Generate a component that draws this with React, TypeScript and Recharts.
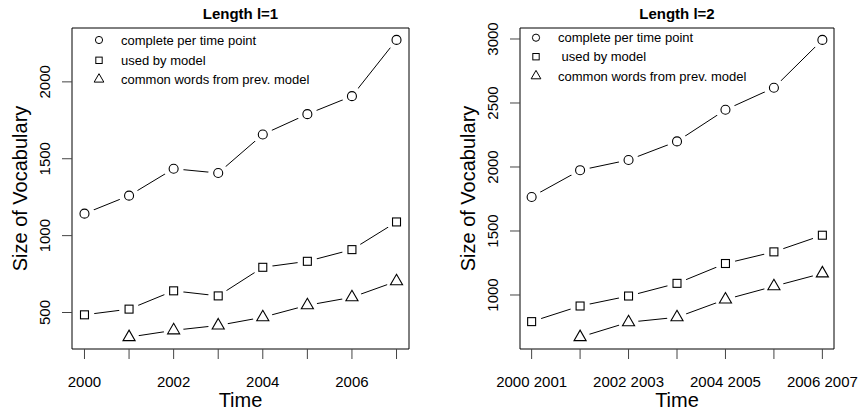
import React from 'react';
import { LineChart, Line, XAxis, YAxis, ReferenceArea, Legend, Label } from 'recharts';

const FONT = '"Liberation Sans", Arial, Helvetica, sans-serif';

// ---- Panel 1 : Length l=1 ----
const years1 = [2000, 2001, 2002, 2003, 2004, 2005, 2006, 2007];
const xLabels1 = ['2000', '2001', '2002', '2003', '2004', '2005', '2006', '2007'];
const complete1 = [1143, 1260, 1435, 1407, 1658, 1790, 1907, 2273];
const used1 = [485, 522, 641, 608, 794, 833, 909, 1089];
const common1: (number | null)[] = [null, 340, 384, 416, 469, 547, 599, 703];
const yTicks1 = [500, 1000, 1500, 2000];

// ---- Panel 2 : Length l=2 ----
const periods2 = ['2000 2001', '2001 2002', '2002 2003', '2003 2004', '2004 2005', '2005 2006', '2006 2007'];
const complete2 = [1766, 1975, 2055, 2200, 2447, 2619, 2993];
const used2 = [792, 914, 992, 1091, 1246, 1337, 1467];
const common2: (number | null)[] = [null, 671, 787, 826, 965, 1068, 1169];
const yTicks2 = [1000, 1500, 2000, 2500, 3000];

const titles = ['Length l=1', 'Length l=2'];
const seriesNames1 = ['complete per time point', 'used by model', 'common words from prev. model'];
const seriesNames2 = ['complete per time point', ' used by model', 'common words from prev. model'];
const shapes = ['circle', 'square', 'triangle'];

// R-style axis range: data range extended by 4% on each side
const rRange = (vals: (number | null)[]): [number, number] => {
  const v = vals.filter((d): d is number => d != null);
  const lo = Math.min(...v);
  const hi = Math.max(...v);
  const d = (hi - lo) * 0.04;
  return [lo - d, hi + d];
};

function MarkerShape({ shape, cx, cy, r, sw = 1.1 }: any) {
  if (shape === 'circle') {
    return <circle cx={cx} cy={cy} r={r} fill="none" stroke="#000" strokeWidth={sw} />;
  }
  if (shape === 'square') {
    const h = r * 0.886;
    return <rect x={cx - h} y={cy - h} width={2 * h} height={2 * h} fill="none" stroke="#000" strokeWidth={sw} />;
  }
  const a = r * 1.555;
  const b = r * 0.778;
  const w = r * 1.347;
  return (
    <polygon
      points={`${cx},${cy - a} ${cx + w},${cy + b} ${cx - w},${cy + b}`}
      fill="none"
      stroke="#000"
      strokeWidth={sw}
      strokeLinejoin="miter"
    />
  );
}

const makeDot = (shape: string) => (props: any) => {
  const { cx, cy, index, value } = props;
  if (cx == null || cy == null || value == null || Number.isNaN(cy)) {
    return <g key={`d-${shape}-${index}`} />;
  }
  return (
    <g key={`d-${shape}-${index}`}>
      <circle cx={cx} cy={cy} r={10} fill="#fff" stroke="none" />
      <MarkerShape shape={shape} cx={cx} cy={cy} r={4.5} />
    </g>
  );
};

const makeXTick = (labels: string[]) => (props: any) => {
  const { x, y, index } = props;
  if (index % 2 !== 0) return <g />;
  return (
    <text x={x} y={y} dy="0.71em" textAnchor="middle" fontSize={15} fill="#000" fontFamily={FONT}>
      {labels[index]}
    </text>
  );
};

const YTick = (props: any) => {
  const { x, y, payload } = props;
  return (
    <text
      x={x}
      y={y}
      transform={`rotate(-90 ${x} ${y})`}
      textAnchor="middle"
      fontSize={15}
      fill="#000"
      fontFamily={FONT}
    >
      {payload.value}
    </text>
  );
};

const TimeTitle = (props: any) => {
  const vb = props.viewBox;
  return (
    <text x={vb.x + vb.width / 2} y={vb.y + 58} textAnchor="middle" fontSize={20} fill="#000" fontFamily={FONT}>
      Time
    </text>
  );
};

const SizeTitle = (props: any) => {
  const vb = props.viewBox;
  const bx = vb.x + vb.width - 45;
  const cy = vb.y + vb.height / 2;
  return (
    <text
      x={bx}
      y={cy}
      transform={`rotate(-90 ${bx} ${cy})`}
      textAnchor="middle"
      fontSize={20}
      fill="#000"
      fontFamily={FONT}
    >
      Size of Vocabulary
    </text>
  );
};

const makeLegend = (names: string[], rows: number[]) => () => (
  <svg width={280} height={62} style={{ display: 'block', overflow: 'visible' }}>
    {names.map((n, i) => (
      <g key={i}>
        <MarkerShape shape={shapes[i]} cx={14} cy={rows[i]} r={3.6} sw={1} />
        <text x={36} y={rows[i] + 4.5} fontSize={13} fill="#000" fontFamily={FONT} style={{ whiteSpace: 'pre' }}>
          {n}
        </text>
      </g>
    ))}
  </svg>
);

interface PanelProps {
  data: any[];
  xDomain: [number, number];
  xTicks: number[];
  xLabels: string[];
  yDomain: [number, number];
  yTicks: number[];
  yAxisWidth: number;
  marginRight: number;
  names: string[];
  legendLeft: number;
  legendTop: number;
  legendRows: number[];
}

function Panel(p: PanelProps) {
  return (
    <LineChart
      width={430}
      height={411}
      data={p.data}
      margin={{ top: 28, right: p.marginRight, bottom: 0, left: 0 }}
      style={{ fontFamily: FONT }}
    >
      <XAxis
        type="number"
        dataKey="x"
        domain={p.xDomain}
        ticks={p.xTicks}
        interval={0}
        allowDataOverflow
        height={62}
        tickSize={10}
        tickMargin={17}
        axisLine={false}
        tickLine={{ stroke: '#444', strokeWidth: 1 }}
        tick={makeXTick(p.xLabels)}
      >
        <Label content={TimeTitle} />
      </XAxis>
      <YAxis
        type="number"
        domain={p.yDomain}
        ticks={p.yTicks}
        interval={0}
        allowDataOverflow
        width={p.yAxisWidth}
        tickSize={10}
        tickMargin={12}
        axisLine={false}
        tickLine={{ stroke: '#444', strokeWidth: 1 }}
        tick={YTick}
      >
        <Label content={SizeTitle} />
      </YAxis>
      <ReferenceArea
        x1={p.xDomain[0]}
        x2={p.xDomain[1]}
        y1={p.yDomain[0]}
        y2={p.yDomain[1]}
        fill="none"
        fillOpacity={0}
        stroke="#000"
        strokeWidth={1}
        ifOverflow="visible"
      />
      <Line
        type="linear"
        dataKey="complete"
        name={p.names[0]}
        stroke="#000"
        strokeWidth={1}
        dot={makeDot('circle')}
        activeDot={false}
        isAnimationActive={false}
      />
      <Line
        type="linear"
        dataKey="used"
        name={p.names[1]}
        stroke="#000"
        strokeWidth={1}
        dot={makeDot('square')}
        activeDot={false}
        isAnimationActive={false}
      />
      <Line
        type="linear"
        dataKey="common"
        name={p.names[2]}
        stroke="#000"
        strokeWidth={1}
        dot={makeDot('triangle')}
        activeDot={false}
        isAnimationActive={false}
      />
      <Legend
        layout="vertical"
        align="center"
        verticalAlign="middle"
        content={makeLegend(p.names, p.legendRows)}
        wrapperStyle={{ left: p.legendLeft, top: p.legendTop, width: 280, height: 62, right: 'auto', bottom: 'auto' }}
      />
    </LineChart>
  );
}

const data1 = years1.map((y, i) => ({ x: y, complete: complete1[i], used: used1[i], common: common1[i] }));
const data2 = periods2.map((_, i) => ({ x: i, complete: complete2[i], used: used2[i], common: common2[i] }));
const idx2 = periods2.map((_, i) => i);

export default function App() {
  return (
    <div style={{ position: 'absolute', left: 0, top: 0, width: 860, height: 411, background: '#fff', fontFamily: FONT }}>
      <div style={{ position: 'absolute', left: 0, top: 0 }}>
        <Panel
          data={data1}
          xDomain={rRange(years1)}
          xTicks={years1}
          xLabels={xLabels1}
          yDomain={rRange([...complete1, ...used1, ...common1])}
          yTicks={yTicks1}
          yAxisWidth={72}
          marginRight={21}
          names={seriesNames1}
          legendLeft={85}
          legendTop={28}
          legendRows={[12, 32.3, 51.3]}
        />
      </div>
      <div style={{ position: 'absolute', left: 430, top: 0 }}>
        <Panel
          data={data2}
          xDomain={rRange(idx2)}
          xTicks={idx2}
          xLabels={periods2}
          yDomain={rRange([...complete2, ...used2, ...common2])}
          yTicks={yTicks2}
          yAxisWidth={90}
          marginRight={26}
          names={seriesNames2}
          legendLeft={92}
          legendTop={26}
          legendRows={[11.7, 30.7, 50]}
        />
      </div>
      <svg width={860} height={30} style={{ position: 'absolute', left: 0, top: 0, pointerEvents: 'none' }}>
        <text x={240.5} y={19} textAnchor="middle" fontSize={15} fontWeight="bold" fill="#000" fontFamily={FONT}>
          {titles[0]}
        </text>
        <text x={677} y={19} textAnchor="middle" fontSize={15} fontWeight="bold" fill="#000" fontFamily={FONT}>
          {titles[1]}
        </text>
      </svg>
    </div>
  );
}
